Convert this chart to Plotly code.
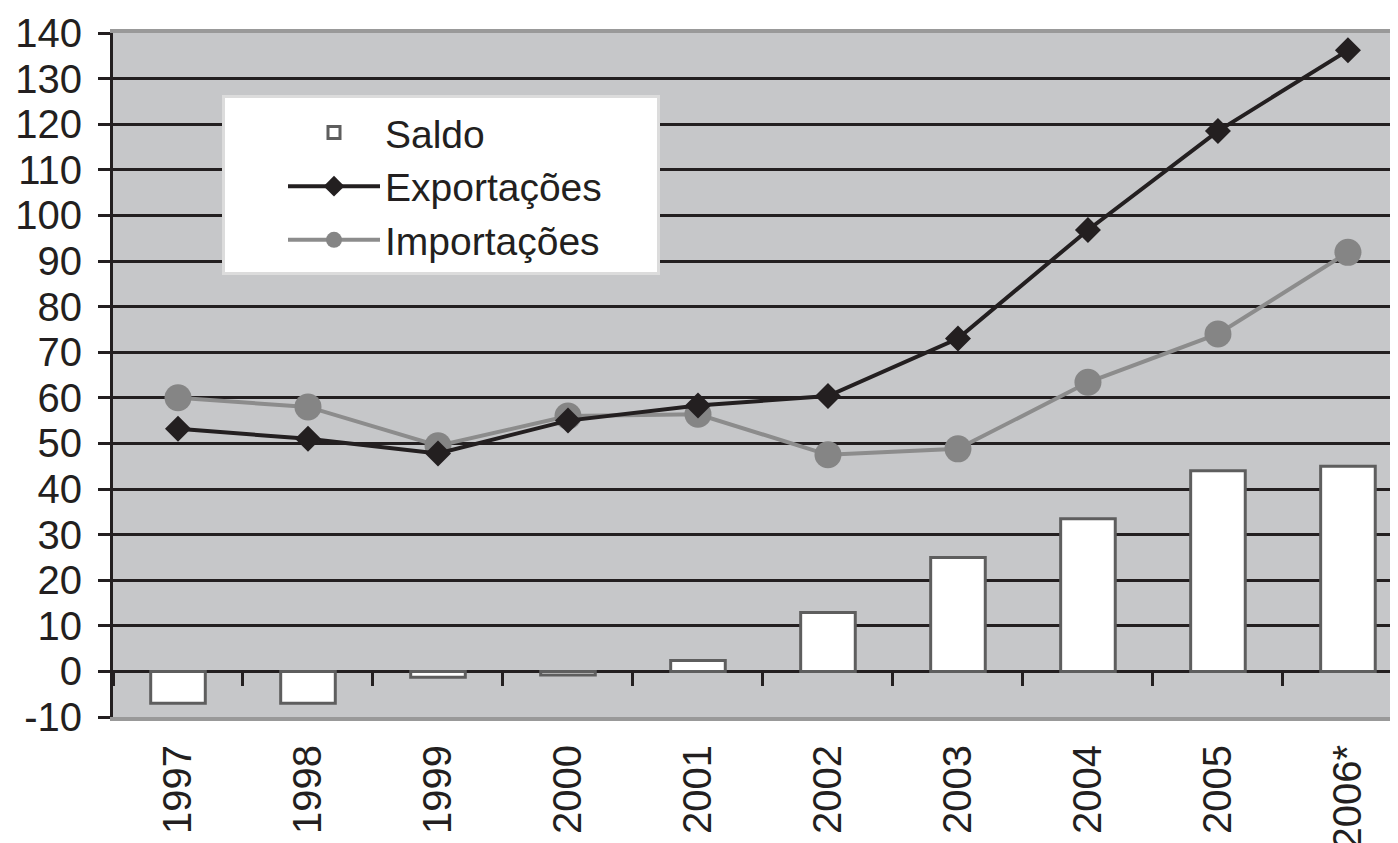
import plotly.graph_objects as go

anos = ["1997", "1998", "1999", "2000", "2001", "2002", "2003", "2004", "2005", "2006*"]
saldo = [-7.0, -7.0, -1.3, -0.8, 2.4, 12.9, 25.0, 33.5, 44.0, 45.0]
exportacoes = [53.2, 51.0, 47.8, 55.0, 58.3, 60.4, 73.0, 96.8, 118.5, 136.2]
importacoes = [60.0, 58.0, 49.5, 56.0, 56.4, 47.5, 48.8, 63.4, 74.0, 91.9]
y_ticks = list(range(-10, 141, 10))
y_ticktext = [str(v) for v in y_ticks]

FONT = "Liberation Sans, Arial, sans-serif"
TXT = "#231f20"

fig = go.Figure()
fig.add_trace(go.Bar(
    x=anos, y=saldo, name="Saldo", xaxis="x2",
    marker=dict(color="white", line=dict(color="#5e5e5e", width=3)),
    width=0.42, legendrank=1, legendgroup="a",
))
fig.add_trace(go.Scatter(
    x=anos, y=importacoes, name="Importações", mode="lines+markers",
    line=dict(color="#8c8c8c", width=4),
    marker=dict(symbol="circle", size=27, color="#858585"),
    cliponaxis=False, legendrank=3, legendgroup="c",
))
fig.add_trace(go.Scatter(
    x=anos, y=exportacoes, name="Exportações", mode="lines+markers",
    line=dict(color=TXT, width=4),
    marker=dict(symbol="diamond", size=20, color=TXT),
    cliponaxis=False, legendrank=2, legendgroup="b",
))

xr = [-0.5, 9.385]
fig.update_layout(
    width=1390, height=835,
    margin=dict(l=105, r=0, t=25, b=126),
    paper_bgcolor="white", plot_bgcolor="#c6c7c9",
    font=dict(family=FONT, color=TXT, size=40),
    showlegend=True,
    legend=dict(
        orientation="v",
        x=(222 - 113) / 1285, y=1 - (95 - 33) / 684, xanchor="left", yanchor="top",
        bgcolor="white", bordercolor="#dcdcdc", borderwidth=3,
        font=dict(size=39, family=FONT, color=TXT),
        itemwidth=92, indentation=58, tracegroupgap=6,
        traceorder="normal",
        title=dict(text="\u00a0" * 770, font=dict(size=2), side="top"),
    ),
    xaxis=dict(
        type="category", categoryorder="array", categoryarray=anos, range=xr,
        showgrid=False, zeroline=False, automargin=False,
        showline=True, linecolor="#999999", linewidth=4, mirror=True,
        ticks="", tickangle=-90, ticklabelstandoff=8,
        tickfont=dict(size=40, family=FONT, color=TXT),
    ),
    xaxis2=dict(
        type="category", categoryorder="array", categoryarray=anos, range=xr,
        overlaying="x", anchor="free", position=10 / 150,
        showgrid=False, zeroline=False, showline=False, automargin=False,
        showticklabels=False, ticks="outside", tickson="boundaries",
        ticklen=14, tickwidth=3, tickcolor=TXT,
    ),
    yaxis=dict(
        range=[-10, 140], tickvals=y_ticks, ticktext=y_ticktext,
        showgrid=True, gridcolor=TXT, gridwidth=3, automargin=False,
        zeroline=True, zerolinecolor=TXT, zerolinewidth=3,
        showline=True, linecolor=TXT, linewidth=3,
        ticks="outside", ticklen=12, tickwidth=3, tickcolor=TXT,
        ticklabelstandoff=8,
        tickfont=dict(size=40, family=FONT, color=TXT),
    ),
)

fig.write_html("out.html")
